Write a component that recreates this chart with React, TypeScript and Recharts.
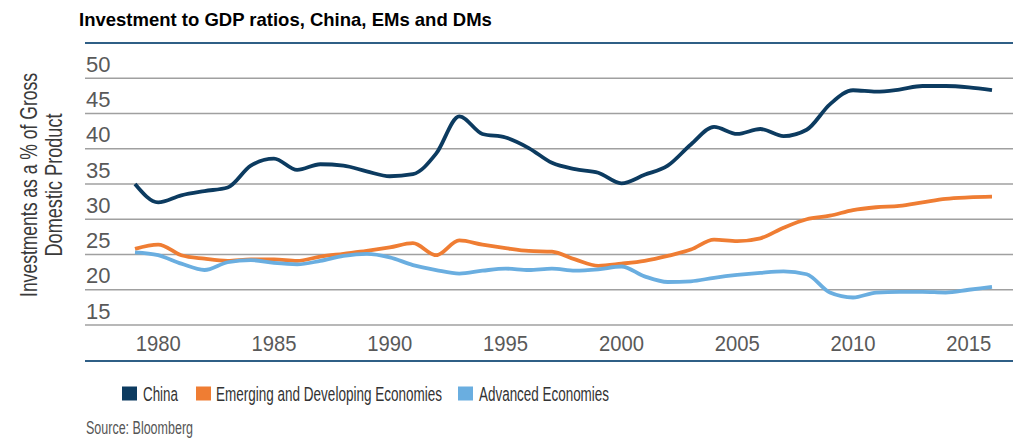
import React from "react";
import { LineChart, Line, XAxis, YAxis, CartesianGrid, ReferenceLine } from "recharts";

const years = [
  1979, 1980, 1981, 1982, 1983, 1984, 1985, 1986, 1987, 1988,
  1989, 1990, 1991, 1992, 1993, 1994, 1995, 1996, 1997, 1998,
  1999, 2000, 2001, 2002, 2003, 2004, 2005, 2006, 2007, 2008,
  2009, 2010, 2011, 2012, 2013, 2014, 2015, 2016,
];

const china = [
  35.0, 32.4, 33.4, 34.0, 34.5, 37.6, 38.6, 37.0, 37.8, 37.6,
  36.8, 36.1, 36.4, 39.3, 44.6, 42.1, 41.6, 40.1, 38.0, 37.1,
  36.6, 35.1, 36.3, 37.6, 40.6, 43.1, 42.1, 42.8, 41.8, 42.7,
  46.3, 48.3, 48.1, 48.4, 48.9, 48.9, 48.7, 48.3,
];

const emerging = [
  25.8, 26.4, 24.9, 24.4, 24.1, 24.3, 24.3, 24.1, 24.7, 25.1,
  25.5, 26.0, 26.6, 24.9, 27.0, 26.4, 25.9, 25.5, 25.4, 24.3,
  23.4, 23.7, 24.1, 24.8, 25.7, 27.1, 26.9, 27.3, 28.8, 30.0,
  30.5, 31.3, 31.7, 31.9, 32.4, 32.9, 33.1, 33.2,
];

const advanced = [
  25.3, 24.9, 23.7, 22.8, 23.9, 24.2, 23.8, 23.6, 24.1, 24.8,
  25.1, 24.6, 23.5, 22.8, 22.3, 22.7, 23.0, 22.8, 23.0, 22.7,
  22.9, 23.3, 21.9, 21.1, 21.2, 21.7, 22.1, 22.4, 22.6, 22.2,
  19.6, 18.9, 19.6, 19.7, 19.7, 19.6, 20.0, 20.4,
];

const xTicks = [1980, 1985, 1990, 1995, 2000, 2005, 2010, 2015];
const yTicks = [15, 20, 25, 30, 35, 40, 45, 50];

const seriesNames = ["China", "Emerging and Developing Economies", "Advanced Economies"];
const seriesColors = ["#0C3B60", "#EF7D33", "#6AAEE0"];

const title = "Investment to GDP ratios, China, EMs and DMs";
const yLabelLines = ["Investments as a % of Gross", "Domestic Product"];
const sourceText = "Source: Bloomberg";

const data = years.map((y, i) => ({
  year: y,
  china: china[i],
  emerging: emerging[i],
  advanced: advanced[i],
}));

const FONT = "'Liberation Sans', Arial, sans-serif";

const YTick = (props: any) => {
  const { y, payload } = props;
  return (
    <text x={86} y={y - 6.5} fontSize={22} fill="#595959" fontFamily={FONT}>
      {payload.value}
    </text>
  );
};

const XTick = (props: any) => {
  const { x, payload } = props;
  return (
    <text
      transform={`translate(${x},351) scale(0.9,1)`}
      fontSize={22}
      fill="#595959"
      fontFamily={FONT}
      textAnchor="middle"
      textLength={45 / 0.9}
      lengthAdjust="spacingAndGlyphs"
    >
      {payload.value}
    </text>
  );
};

const legendItems = [
  { sq: 122, tx: 143, w: 35 },
  { sq: 196, tx: 216, w: 226 },
  { sq: 458, tx: 479, w: 130 },
];

const LEG_SX = 0.64;
const YL_SX = 0.74;
const SRC_SX = 0.66;

export default function App() {
  return (
    <div style={{ position: "absolute", left: 0, top: 0, width: 1024, height: 440, background: "#fff" }}>
      <LineChart
        width={1024}
        height={440}
        data={data}
        margin={{ top: 43, right: 11, left: 0, bottom: 85 }}
      >
        <CartesianGrid horizontal={true} vertical={false} stroke="#A0A0A0" strokeWidth={1.5} />
        <XAxis
          dataKey="year"
          type="number"
          domain={[1979, 2016]}
          ticks={xTicks}
          padding={{ left: 50, right: 21 }}
          axisLine={false}
          tickLine={false}
          height={30}
          tick={<XTick />}
          interval={0}
        />
        <YAxis
          type="number"
          domain={[15, 55]}
          ticks={yTicks}
          width={85}
          axisLine={false}
          tickLine={false}
          tick={<YTick />}
          interval={0}
        />
        <ReferenceLine y={55} stroke="#2F5F86" strokeWidth={2} ifOverflow="visible" />
        <Line
          dataKey="china"
          name={seriesNames[0]}
          type="monotone"
          stroke={seriesColors[0]}
          strokeWidth={3.8}
          dot={false}
          isAnimationActive={false}
        />
        <Line
          dataKey="emerging"
          name={seriesNames[1]}
          type="monotone"
          stroke={seriesColors[1]}
          strokeWidth={3.8}
          dot={false}
          isAnimationActive={false}
        />
        <Line
          dataKey="advanced"
          name={seriesNames[2]}
          type="monotone"
          stroke={seriesColors[2]}
          strokeWidth={3.8}
          dot={false}
          isAnimationActive={false}
        />
      </LineChart>
      <svg
        width={1024}
        height={440}
        style={{ position: "absolute", left: 0, top: 0, pointerEvents: "none" }}
      >
        <text x={79} y={26} fontFamily={FONT} fontWeight="bold" fontSize={18.5} fill="#000">
          {title}
        </text>
        <text
          transform={`translate(37,185) rotate(-90) scale(${YL_SX},1)`}
          textAnchor="middle"
          fontFamily={FONT}
          fontSize={23.5}
          fill="#3A3A3A"
          textLength={224 / YL_SX}
          lengthAdjust="spacingAndGlyphs"
        >
          {yLabelLines[0]}
        </text>
        <text
          transform={`translate(62,185) rotate(-90) scale(${YL_SX},1)`}
          textAnchor="middle"
          fontFamily={FONT}
          fontSize={23.5}
          fill="#3A3A3A"
          textLength={143 / YL_SX}
          lengthAdjust="spacingAndGlyphs"
        >
          {yLabelLines[1]}
        </text>
        <line x1={85} x2={1013} y1={361} y2={361} stroke="#2F5F86" strokeWidth={2} />
        {legendItems.map((it, i) => (
          <g key={i}>
            <rect x={it.sq} y={386.5} width={15} height={14} fill={seriesColors[i]} />
            <text
              transform={`translate(${it.tx},400.5) scale(${LEG_SX},1)`}
              fontFamily={FONT}
              fontSize={20.5}
              fill="#333333"
              textLength={it.w / LEG_SX}
              lengthAdjust="spacingAndGlyphs"
            >
              {seriesNames[i]}
            </text>
          </g>
        ))}
        <text
          transform={`translate(86,434) scale(${SRC_SX},1)`}
          fontFamily={FONT}
          fontSize={19}
          fill="#555555"
          textLength={107 / SRC_SX}
          lengthAdjust="spacingAndGlyphs"
        >
          {sourceText}
        </text>
      </svg>
    </div>
  );
}
